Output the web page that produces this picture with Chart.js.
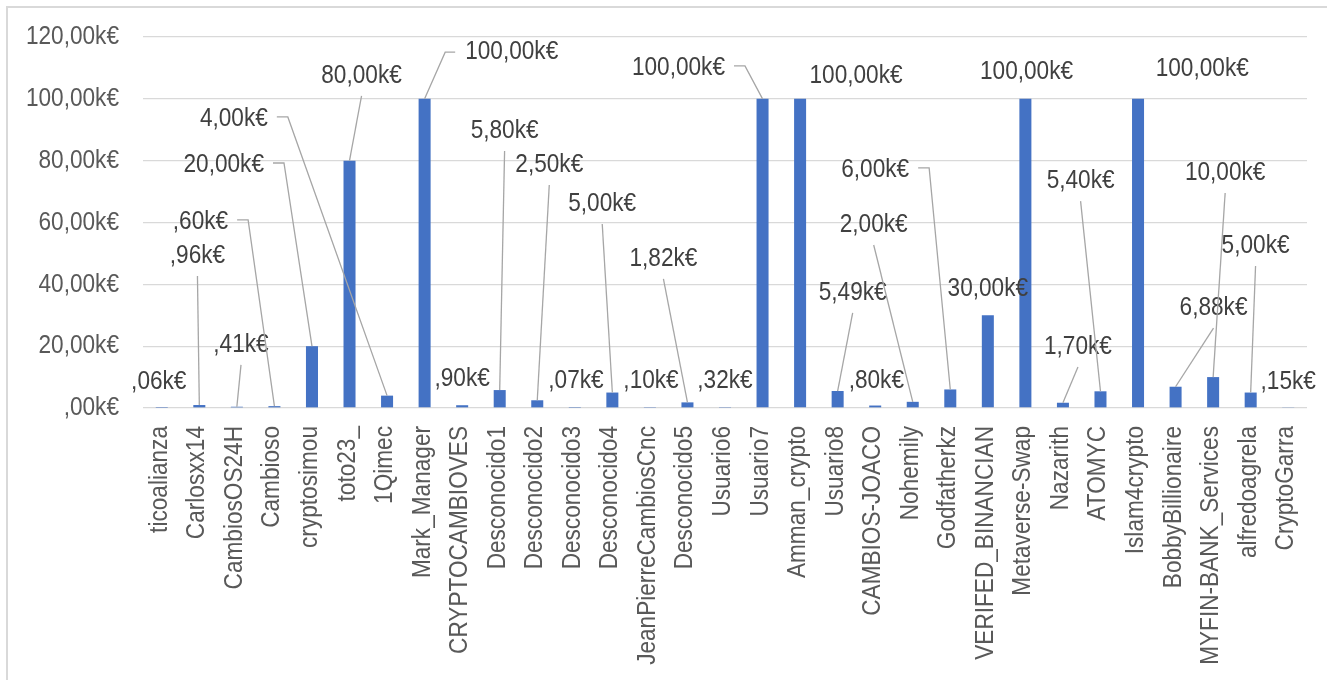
<!DOCTYPE html>
<html>
<head>
<meta charset="utf-8">
<script src="https://cdn.jsdelivr.net/npm/chart.js@4.4.1/dist/chart.umd.min.js"></script>
<style>
  html, body { margin: 0; padding: 0; background: #fff; }
  #wrap { width: 1327px; height: 680px; position: relative; }
</style>
</head>
<body>
<div id="wrap"><canvas id="chart"></canvas></div>
<script>
// ── DATA ──────────────────────────────────────────────────
const categories = [
  'ticoalianza', 'Carlosxx14', 'CambiosOS24H', 'Cambioso', 'cryptosimou', 'toto23_',
  '1Qimec', 'Mark_Manager', 'CRYPTOCAMBIOVES', 'Desconocido1', 'Desconocido2',
  'Desconocido3', 'Desconocido4', 'JeanPierreCambiosCnc', 'Desconocido5', 'Usuario6',
  'Usuario7', 'Amman_crypto', 'Usuario8', 'CAMBIOS-JOACO', 'Nohemily', 'Godfatherkz',
  'VERIFED_BINANCIAN', 'Metaverse-Swap', 'Nazarith', 'ATOMYC', 'Islam4crypto',
  'BobbyBillionaire', 'MYFIN-BANK_Services', 'alfredoagrela', 'CryptoGarra'
];

// amounts in k€
const values = [
  0.06, 0.96, 0.41, 0.60, 20.00, 80.00, 4.00, 100.00, 0.90, 5.80, 2.50,
  0.07, 5.00, 0.10, 1.82, 0.32, 100.00, 100.00, 5.49, 0.80, 2.00, 6.00,
  30.00, 100.00, 1.70, 5.40, 100.00, 6.88, 10.00, 5.00, 0.15
];

const yTickLabels = [',00k€', '20,00k€', '40,00k€', '60,00k€', '80,00k€', '100,00k€', '120,00k€'];

// ── LABEL LAYOUT (offset in categories, height in k€, leader kind) ──
// n = no leader, l = straight line, r = elbow right of text, L = elbow left of text
const labelDx = [
  -0.08, -0.05, 0.11, -1.97, -2.35, 0.32, -4.08, 2.32, 0, 0.13, 0.32,
  0.03, -0.27, 0.03, -0.64, 0, -2.24, 1.49, 0.40, 0.03, -1.04, -2.0,
  0, 0.03, 0.40, -0.53, 1.71, 1.01, 0.32, 0.13, 0
];
const labelY = [
  8.4, 49.2, 20.4, 60.2, 78.6, 107.4, 93.5, 115.1, 9.4, 89.6, 78.6,
  8.7, 66.0, 8.7, 48.2, 8.7, 110.0, 107.4, 37.2, 8.7, 59.2, 77.0,
  38.5, 108.7, 19.7, 73.4, 109.6, 32.3, 76.0, 52.4, 8.4
];
const leaderKind = [
  'n', 'l', 'l', 'r', 'r', 'l', 'r', 'L', 'n', 'l', 'l',
  'n', 'l', 'n', 'l', 'n', 'r', 'n', 'l', 'n', 'l', 'r',
  'n', 'n', 'l', 'l', 'n', 'l', 'l', 'l', 'n'
];

const FONT = '"Liberation Sans", Arial, sans-serif';
const FONT_SIZE = 26;
const SQUEEZE = 0.87;   // the original uses a narrow face

function fmtK(v) {
  const s = v.toFixed(2).replace('.', ',');
  return (s.startsWith('0,') ? s.slice(1) : s) + 'k€';
}

// draw text squeezed horizontally (along its own direction)
function narrowText(ctx, text, x, y, align, baseline, angle) {
  ctx.save();
  ctx.translate(x, y);
  if (angle) ctx.rotate(angle);
  ctx.scale(SQUEEZE, 1);
  ctx.textAlign = align;
  ctx.textBaseline = baseline;
  ctx.fillText(text, 0, 0);
  ctx.restore();
}

// ── PLUGINS ───────────────────────────────────────────────
const frame = {
  id: 'frame',
  beforeDraw(chart) {
    const ctx = chart.ctx;
    ctx.save();
    ctx.strokeStyle = '#d9d9d9';
    ctx.lineWidth = 2;
    ctx.strokeRect(7, 7, 1400, 760);
    ctx.restore();
  }
};

const axisText = {
  id: 'axisText',
  afterDraw(chart) {
    const { ctx, scales: { x, y } } = chart;
    ctx.save();
    ctx.font = FONT_SIZE + 'px ' + FONT;
    ctx.fillStyle = '#595959';
    yTickLabels.forEach((t, i) => {
      narrowText(ctx, t, y.right - 24, y.getPixelForValue(i * 20), 'right', 'middle');
    });
    categories.forEach((c, i) => {
      narrowText(ctx, c, x.getPixelForValue(i) + 5, x.top + 18, 'right', 'alphabetic', -Math.PI / 2);
    });
    ctx.restore();
  }
};

const dataLabels = {
  id: 'dataLabels',
  afterDatasetsDraw(chart) {
    const { ctx, scales: { x, y } } = chart;
    const cat = x.getPixelForValue(1) - x.getPixelForValue(0);
    ctx.save();
    ctx.font = FONT_SIZE + 'px ' + FONT;
    ctx.strokeStyle = '#a6a6a6';
    ctx.lineWidth = 1.3;
    ctx.fillStyle = '#404040';
    values.forEach((v, i) => {
      const bx = x.getPixelForValue(i);
      const by = y.getPixelForValue(v);
      const lx = bx + labelDx[i] * cat;
      const ly = y.getPixelForValue(labelY[i]);
      const text = fmtK(v);
      const half = ctx.measureText(text).width * SQUEEZE / 2;
      ctx.beginPath();
      if (leaderKind[i] === 'l') {
        ctx.moveTo(lx, ly + 20);
        ctx.lineTo(bx, by);
      } else if (leaderKind[i] === 'r') {
        ctx.moveTo(lx + half + 9, ly - 2);
        ctx.lineTo(lx + half + 20, ly - 2);
        ctx.lineTo(bx, by);
      } else if (leaderKind[i] === 'L') {
        ctx.moveTo(bx, by);
        ctx.lineTo(lx - half - 20, ly);
        ctx.lineTo(lx - half - 10, ly);
      }
      ctx.stroke();
      narrowText(ctx, text, lx, ly, 'center', 'middle');
    });
    ctx.restore();
  }
};

// ── CHART ─────────────────────────────────────────────────
new Chart(document.getElementById('chart'), {
  type: 'bar',
  data: {
    labels: categories,
    datasets: [{
      data: values,
      backgroundColor: '#4472C4',
      categoryPercentage: 1,
      barPercentage: 0.32,
    }],
  },
  options: {
    responsive: true,
    maintainAspectRatio: false,
    animation: false,
    layout: { padding: { left: 0, top: 37, right: 20, bottom: 0 } },
    plugins: {
      legend: { display: false },
      tooltip: { enabled: false },
    },
    scales: {
      x: {
        grid: { display: false, drawTicks: false },
        border: { display: false },
        ticks: { display: false, autoSkip: false },
        afterFit: s => { s.height = 272; s.paddingLeft = 0; s.paddingRight = 0; },
      },
      y: {
        min: 0,
        max: 120,
        grid: { color: '#d9d9d9', lineWidth: 1.3, drawTicks: false },
        border: { display: false },
        ticks: { display: false, stepSize: 20 },
        afterFit: s => { s.width = 143; s.paddingTop = 0; s.paddingBottom = 0; },
      },
    },
  },
  plugins: [frame, dataLabels, axisText],
});
</script>
</body>
</html>
